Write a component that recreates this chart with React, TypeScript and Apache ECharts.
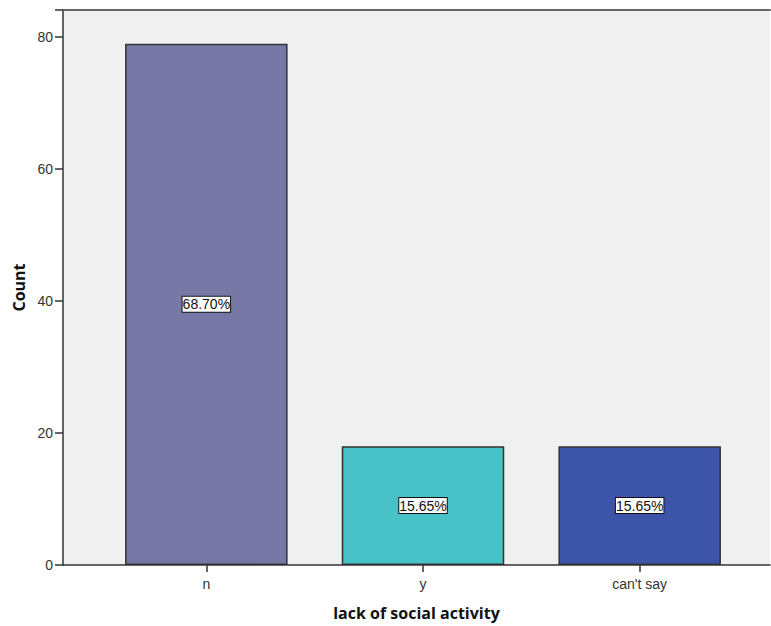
import React, { useEffect, useRef } from "react";
import * as echarts from "echarts";

const categories = ["n", "y", "can't say"];
const counts = [79, 18, 18];
const percentLabels = ["68.70%", "15.65%", "15.65%"];
const barColors = ["#7878a6", "#48c2c6", "#3d55a8"];
const yTicks = [0, 20, 40, 60, 80];

export default function App() {
  const ref = useRef<HTMLDivElement>(null);
  useEffect(() => {
    if (!ref.current) return;
    const chart = echarts.init(ref.current, undefined, { renderer: "svg" });
    const yMax = 84.1;
    chart.setOption({
      animation: false,
      backgroundColor: "#ffffff",
      grid: [
        { left: 63, right: 1, top: 10, bottom: 61, show: true, backgroundColor: "#f0f0f0", borderWidth: 0 },
        { left: 98, right: 23, top: 10, bottom: 61 },
      ],
      xAxis: [
        {
          type: "value",
          gridIndex: 0,
          min: 0,
          max: 1,
          axisLine: { show: true, onZero: false, lineStyle: { color: "#333", width: 1.5 } },
          axisTick: { show: false },
          axisLabel: { show: false },
          splitLine: { show: false },
          name: "lack of social activity",
          nameLocation: "middle",
          nameGap: 40,
          nameTextStyle: { fontFamily: "Open Sans", fontWeight: "bold", fontSize: 16, color: "#111" },
        },
        {
          type: "value",
          gridIndex: 0,
          position: "top",
          min: 0,
          max: 1,
          axisLine: { show: true, onZero: false, lineStyle: { color: "#666", width: 2 } },
          axisTick: { show: false },
          axisLabel: { show: false },
          splitLine: { show: false },
        },
        {
          type: "category",
          gridIndex: 1,
          data: categories,
          axisLine: { show: false },
          axisTick: { show: true, alignWithLabel: true, length: 7, lineStyle: { color: "#333", width: 1.5 } },
          axisLabel: { color: "#333", fontSize: 14, fontFamily: "Liberation Sans", margin: 12 },
        },
      ],
      yAxis: [
        {
          type: "value",
          gridIndex: 0,
          min: 0,
          max: yMax,
          interval: 20,
          axisLine: { show: true, lineStyle: { color: "#333", width: 1.5 } },
          axisTick: { show: true, length: 8, lineStyle: { color: "#333", width: 1.5 } },
          axisLabel: {
            color: "#333",
            fontSize: 14,
            fontFamily: "Liberation Sans",
            margin: 10,
            formatter: (v: number) => (yTicks.includes(v) ? String(v) : ""),
          },
          splitLine: { show: false },
          name: "Count",
          nameLocation: "middle",
          nameGap: 34,
          nameTextStyle: { fontFamily: "Open Sans", fontWeight: "bold", fontSize: 16, color: "#111" },
        },
        {
          type: "value",
          gridIndex: 1,
          min: 0,
          max: yMax,
          show: false,
        },
      ],
      series: [
        {
          type: "bar",
          xAxisIndex: 2,
          yAxisIndex: 1,
          barWidth: "75%",
          data: counts.map((v, i) => ({
            value: v,
            itemStyle: { color: barColors[i], borderColor: "#333", borderWidth: 1.5 },
            label: {
              show: true,
              position: "inside",
              formatter: percentLabels[i],
              backgroundColor: "#ffffff",
              borderColor: "#111",
              borderWidth: 1,
              padding: [1, 0, 0, 0],
              color: "#111",
              fontSize: 14,
              fontFamily: "Liberation Sans",
            },
          })),
        },
      ],
    });
    return () => chart.dispose();
  }, []);
  return <div ref={ref} style={{ width: 771, height: 626, position: "absolute", left: 0, top: 0 }} />;
}
